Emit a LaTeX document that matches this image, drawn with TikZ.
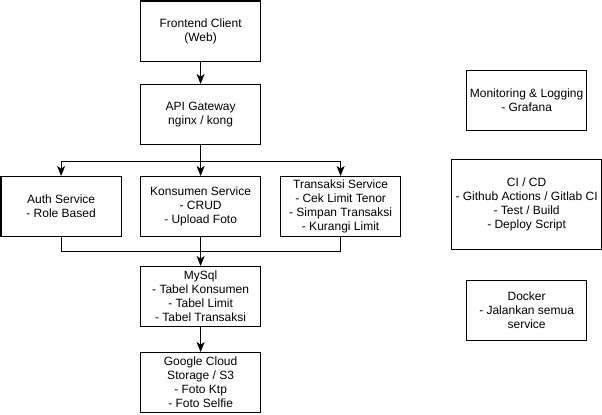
\documentclass[tikz,border=0pt]{standalone}
\usepackage{fontspec}
\setmainfont{Liberation Sans}
\usetikzlibrary{arrows.meta}
\begin{document}
\begin{tikzpicture}[x=0.75pt,y=-0.75pt,
  box/.style={draw=black,line width=0.9pt,fill=white,anchor=north west,inner sep=0pt,
    align=center,font=\fontsize{9}{10.5}\selectfont},
  arr/.style={line width=0.9pt,-{Stealth[length=7.5pt,width=6pt,inset=2pt]}},
  ln/.style={line width=0.9pt}]
\useasboundingbox[fill=white] (0,0) rectangle (602,414);
\node[box,minimum width=120*0.75pt,minimum height=60*0.75pt] (fe) at (140,0.5) {Frontend Client\\(Web)};
\node[box,minimum width=120*0.75pt,minimum height=60*0.75pt] (api) at (140,84) {API Gateway\\nginx / kong};
\node[box,minimum width=120*0.75pt,minimum height=60*0.75pt] (auth) at (0.5,176) {Auth Service\\- Role Based};
\node[box,minimum width=120*0.75pt,minimum height=60*0.75pt] (kon) at (140,176) {Konsumen Service\\- CRUD\\- Upload Foto};
\node[box,minimum width=120*0.75pt,minimum height=60*0.75pt] (tr) at (280,176) {Transaksi Service\\- Cek Limit Tenor\\- Simpan Transaksi\\- Kurangi Limit};
\node[box,minimum width=120*0.75pt,minimum height=60*0.75pt] (db) at (140,266) {MySql\\- Tabel Konsumen\\- Tabel Limit\\- Tabel Transaksi};
\node[box,minimum width=120*0.75pt,minimum height=60*0.75pt] (st) at (140,352) {Google Cloud\\Storage / S3\\- Foto Ktp\\- Foto Selfie};
\node[box,minimum width=120*0.75pt,minimum height=60*0.75pt] (mon) at (466,70) {Monitoring \& Logging\\- Grafana};
\node[box,minimum width=150*0.75pt,minimum height=90*0.75pt] (ci) at (451,159) {CI / CD\\- Github Actions / Gitlab CI\\- Test / Build\\- Deploy Script};
\node[box,minimum width=120*0.75pt,minimum height=60*0.75pt] (dk) at (466,280) {Docker\\- Jalankan semua\\service};
\draw[arr] (fe) -- (api);
\draw[arr] (api) -- (kon);
\draw[arr] (api.south) -- ++(0,16) -| (auth.north);
\draw[arr] (api.south) -- ++(0,16) -| (tr.north);
\draw[ln] (auth.south) -- ++(0,14) -| (tr.south);
\draw[arr] (kon) -- (db);
\draw[arr] (db) -- (st);
\end{tikzpicture}
\end{document}
